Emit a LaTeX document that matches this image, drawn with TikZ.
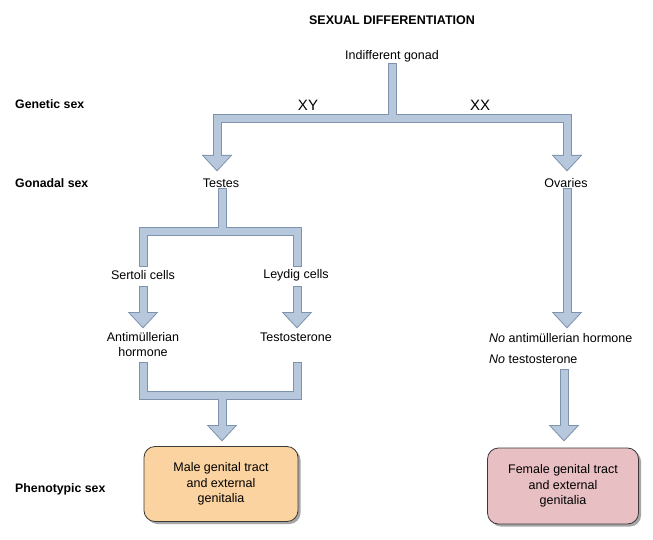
\documentclass[tikz,border=0pt]{standalone}
\usepackage{fontspec}
\setmainfont{Liberation Sans}
\usetikzlibrary{shadows}
\definecolor{pipefill}{HTML}{B7C8DC}
\definecolor{pipeline}{HTML}{7E93AE}
\definecolor{malefill}{HTML}{FBD3A0}
\definecolor{femalefill}{HTML}{E8BFC3}
\definecolor{boxline}{HTML}{3A3A3A}
\tikzset{
  txt/.style={inner sep=0pt, font=\fontsize{12.5}{15}\selectfont, align=center},
  side/.style={inner sep=0pt, anchor=west, font=\fontsize{12.3}{14}\selectfont\bfseries},
  pipeB/.style={draw=pipeline, line width=9pt, line cap=rect, line join=miter},
  pipeF/.style={draw=pipefill, line width=7pt, line cap=rect, line join=miter},
  headB/.style={fill=pipeline, draw=pipeline, line width=2pt, line join=miter},
  headF/.style={fill=pipefill},
  outcome/.style={draw=boxline, line width=0.8pt, rounded corners=11pt, minimum width=154pt, minimum height=75pt, align=center, inner sep=0pt, font=\fontsize{12.5}{15.5}\selectfont, drop shadow={shadow xshift=2.5pt, shadow yshift=-2.5pt, opacity=0.35, fill=black}}
}
\newcommand{\headpath}[1]{(#1) -- ++(-13,-14) -- ++(26,0) -- cycle}
\begin{document}
\begin{tikzpicture}[x=1pt, y=-1pt]
\useasboundingbox (0,0) rectangle (653,540);
% texts
\node[inner sep=0pt, font=\fontsize{12.5}{14}\selectfont\bfseries] (title) at (392,20) {SEXUAL DIFFERENTIATION};
\node[txt] (gonad) at (392,56) {Indifferent gonad};
\node[side] (gen) at (15,104) {Genetic sex};
\node[side] (gon) at (15,183) {Gonadal sex};
\node[side] (phen) at (15,489) {Phenotypic sex};
\node[txt, font=\fontsize{15}{18}\selectfont] (xy) at (308,105) {XY};
\node[txt, font=\fontsize{15}{18}\selectfont] (xx) at (480,105) {XX};
\node[txt] (testes) at (221,183) {Testes};
\node[txt] (ovaries) at (566,183) {Ovaries};
\node[txt] (sertoli) at (143,275) {Sertoli cells};
\node[txt] (leydig) at (296,275) {Leydig cells};
\node[txt] (amh) at (143,345) {Antimüllerian\\hormone};
\node[txt] (testo) at (296,337) {Testosterone};
\node[txt, anchor=west] (noamh) at (489,338) {\textit{No} antimüllerian hormone};
\node[txt, anchor=west] (notesto) at (489,359) {\textit{No} testosterone};
\node[outcome, fill=malefill] (male) at (221,484) {Male genital tract\\and external\\genitalia};
\node[outcome, fill=femalefill, minimum width=151pt, minimum height=76pt] (female) at (563,486) {Female genital tract\\and external\\genitalia};
% coordinates
\coordinate (g0) at (392,68);
\coordinate (gj) at (392,119);
\coordinate (gl) at (217,119);
\coordinate (gr) at (567,119);
\coordinate (tT) at (217,170);
\coordinate (tO) at (567,170);
\coordinate (t0) at (222,193);
\coordinate (tj) at (222,231);
\coordinate (tl) at (143,231);
\coordinate (tr) at (297,231);
\coordinate (tle) at (143,262);
\coordinate (tre) at (297,262);
\coordinate (s0) at (143,290);
\coordinate (sT) at (143,327);
\coordinate (l0) at (297,290);
\coordinate (lT) at (297,327);
\coordinate (a0) at (143,366);
\coordinate (al) at (143,395);
\coordinate (b0) at (297,366);
\coordinate (br) at (297,395);
\coordinate (mj) at (222,395);
\coordinate (mT) at (222,440);
\coordinate (o0) at (567,193);
\coordinate (oT) at (567,327);
\coordinate (n0) at (564,373);
\coordinate (nT) at (564,440);
% border pass, then fill pass
\foreach \s/\h in {pipeB/headB, pipeF/headF}{
  \draw[\s] (g0) -- (gj);
  \draw[\s] ([yshift=14pt]tT) -- (gl) -- (gr) -- ([yshift=14pt]tO);
  \draw[\s] (t0) -- (tj);
  \draw[\s] (tle) -- (tl) -- (tr) -- (tre);
  \draw[\s] (s0) -- ([yshift=14pt]sT);
  \draw[\s] (l0) -- ([yshift=14pt]lT);
  \draw[\s] (a0) -- (al) -- (br) -- (b0);
  \draw[\s] (mj) -- ([yshift=14pt]mT);
  \draw[\s] (o0) -- ([yshift=14pt]oT);
  \draw[\s] (n0) -- ([yshift=14pt]nT);
  \foreach \t in {tT,tO,sT,lT,mT,oT,nT}{
    \path[\h] \headpath{\t};
  }
}
\end{tikzpicture}
\end{document}
